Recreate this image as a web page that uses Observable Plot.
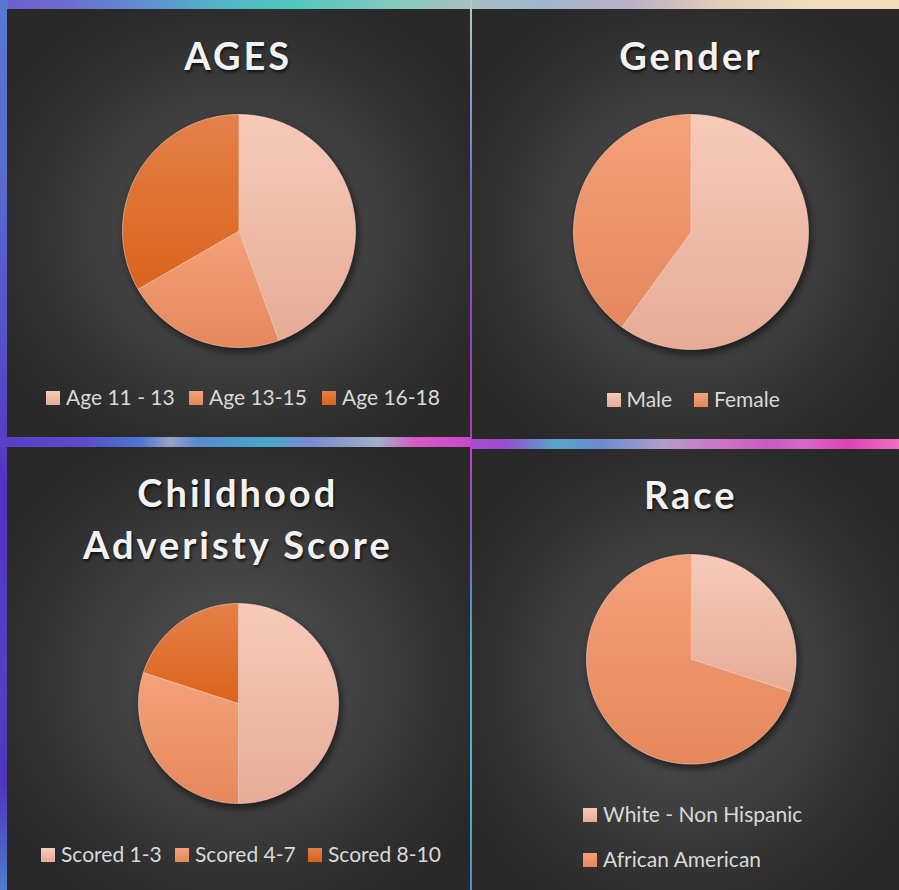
<!DOCTYPE html>
<html>
<head>
<meta charset="utf-8">
<script src="https://cdn.jsdelivr.net/npm/d3@7"></script>
<script src="https://cdn.jsdelivr.net/npm/@observablehq/plot@0.6"></script>
<style>
  html, body { margin: 0; padding: 0; background: #2b2b2b; }
  #root { position: relative; width: 899px; height: 890px; overflow: hidden; background: #5a4cc8; }
  .band { position: absolute; }
  .panel { position: absolute; background: radial-gradient(ellipse 60% 60% at 50% 52%, #575757 0%, #414141 45%, #2d2d2d 85%, #292929 100%); }
  .title { position: absolute; width: 440px; text-align: center; font-family: Lato, "Open Sans", sans-serif; font-weight: 700; font-size: 38px; line-height: 52px; letter-spacing: 3px; color: #f2f2f2; text-shadow: 1px 2px 3px rgba(0,0,0,0.75); }
  .pie { position: absolute; }
  .pie svg { display: block; overflow: visible; filter: drop-shadow(2px 4px 4px rgba(0,0,0,0.6)); }
  .leg { position: absolute; height: 20px; font-family: Lato, "Open Sans", sans-serif; font-size: 21px; line-height: 20px; color: #d9d9d9; white-space: nowrap; }
  .leg .sw { position: absolute; left: 0; top: 4px; width: 14px; height: 14px; }
  .leg .tx { position: absolute; left: 20px; top: 0; }
</style>
</head>
<body>
<div id="root"></div>
<script>
// ---------- data ----------
const ageTitle = ["AGES"];
const ageLabels = ["Age 11 - 13", "Age 13-15", "Age 16-18"];
const ageValues = [4, 2, 3];

const genderTitle = ["Gender"];
const genderLabels = ["Male", "Female"];
const genderValues = [60, 40];

const aceTitle = ["Childhood", "Adveristy Score"];
const aceLabels = ["Scored 1-3", "Scored 4-7", "Scored 8-10"];
const aceValues = [50, 30, 20];

const raceTitle = ["Race"];
const raceLabels = ["White - Non Hispanic", "African American"];
const raceValues = [30, 70];

// slice colours: [top, bottom] of each slice's vertical gradient
const sliceColors = [
  ["#f8cab9", "#e5ab97"],
  ["#f4a17a", "#e5875c"],
  ["#e5804a", "#d9631a"]
];

// ---------- layout ----------
const root = document.getElementById("root");

function band(left, top, width, height, bg) {
  const d = document.createElement("div");
  d.className = "band";
  Object.assign(d.style, {left: left + "px", top: top + "px", width: width + "px", height: height + "px", background: bg});
  root.appendChild(d);
}
// colourful frame
band(0, 0, 899, 9, "linear-gradient(to right, #6a5fcf 0%, #6d6fd0 8%, #5a98cf 18%, #52b9c8 26%, #4ec6bd 32%, #85c9bd 44%, #a9bfc0 52%, #9eb6cc 60%, #b9b0c4 70%, #e2cdb8 80%, #efdcbc 90%, #f2dcb8 100%)");
band(0, 0, 8, 890, "linear-gradient(to bottom, #5b78d2 0%, #5a6ad0 20%, #5646c8 45%, #5232c2 55%, #5440c6 75%, #4f34bd 88%, #4f7ccd 100%)");
band(0, 436, 472, 11, "linear-gradient(to right, #5a3ec8 0%, #5a4ccc 18%, #4c78d2 30%, #9aa0c8 36%, #5a8ad0 42%, #45a8c8 56%, #7a8ad0 66%, #a0b0c8 80%, #d85ac8 88%, #c648cc 100%)");
band(470, 438, 429, 11, "linear-gradient(to right, #b04ad0 0%, #9a4ccf 8%, #58a6cc 20%, #6a8ad0 30%, #b29cc8 45%, #cc74c8 58%, #c85ac4 70%, #d868c8 78%, #e040b8 88%, #f070c0 100%)");
band(470, 0, 2, 438, "linear-gradient(to bottom, #a8d4b4 0%, #80a8c8 20%, #6a6ad0 45%, #9a40c8 75%, #b03ec8 100%)");
band(470, 446, 2, 444, "linear-gradient(to bottom, #c040c8 0%, #7a60c8 20%, #40b0c8 45%, #3ec0cc 75%, #4a90c8 100%)");

const panels = [
  {title: ageTitle, labels: ageLabels, values: ageValues,
   box: [7, 9, 463, 428], cx: 238.3, cy: 230.5, r: 116.5, titleTop: 29.3,
   legend: {left: [46, 189, 322], base: [405, 405, 405]}},
  {title: genderTitle, labels: genderLabels, values: genderValues,
   box: [472, 9, 427, 430], cx: 690.8, cy: 231.3, r: 117.5, titleTop: 29.3,
   legend: {left: [606.5, 694], base: [407, 407]}},
  {title: aceTitle, labels: aceLabels, values: aceValues,
   box: [7, 447, 463, 443], cx: 237.8, cy: 703.3, r: 100, titleTop: 466.3,
   legend: {left: [41, 175, 308], base: [862, 862, 862]}},
  {title: raceTitle, labels: raceLabels, values: raceValues,
   box: [472, 449, 427, 441], cx: 690.8, cy: 658.3, r: 104.8, titleTop: 468.3,
   legend: {left: [583, 583], base: [821.5, 866.5]}}
];

panels.forEach((p, pi) => {
  const pd = document.createElement("div");
  pd.className = "panel";
  Object.assign(pd.style, {left: p.box[0] + "px", top: p.box[1] + "px", width: p.box[2] + "px", height: p.box[3] + "px"});
  root.appendChild(pd);
});

panels.forEach((p, pi) => {
  // title
  const t = document.createElement("div");
  t.className = "title";
  t.style.left = (p.cx - 220) + "px";
  t.style.top = p.titleTop + "px";
  t.innerHTML = p.title.map(s => `<div>${s}</div>`).join("");
  root.appendChild(t);

  // pie via Plot
  const arcs = d3.pie().sort(null).value(d => d)(p.values);
  const m = 3;
  const size = 2 * p.r + 2 * m;
  const marks = arcs.map((a, i) => {
    const pts = [{x: 0, y: 0}];
    const n = Math.max(2, Math.ceil((a.endAngle - a.startAngle) / (Math.PI / 360)));
    for (let k = 0; k <= n; k++) {
      const ang = a.startAngle + (a.endAngle - a.startAngle) * k / n;
      pts.push({x: Math.sin(ang), y: Math.cos(ang)});
    }
    pts.push({x: 0, y: 0});
    return Plot.line(pts, {
      x: "x", y: "y", curve: "linear",
      fill: `url(#p${pi}g${i})`,
      stroke: "#fbd6c6", strokeOpacity: 0.75, strokeWidth: 0.8, strokeLinejoin: "round"
    });
  });
  const svg = Plot.plot({
    width: size, height: size, margin: m,
    x: {domain: [-1, 1], axis: null},
    y: {domain: [-1, 1], axis: null},
    style: {background: "transparent", overflow: "visible"},
    marks
  });
  const defs = d3.select(svg).insert("defs", ":first-child");
  sliceColors.forEach((c, i) => {
    const g = defs.append("linearGradient").attr("id", `p${pi}g${i}`).attr("x1", 0).attr("y1", 0).attr("x2", 0).attr("y2", 1);
    g.append("stop").attr("offset", "0%").attr("stop-color", c[0]);
    g.append("stop").attr("offset", "100%").attr("stop-color", c[1]);
  });
  const holder = document.createElement("div");
  holder.className = "pie";
  holder.style.left = (p.cx - p.r - m) + "px";
  holder.style.top = (p.cy - p.r - m) + "px";
  holder.appendChild(svg);
  root.appendChild(holder);

  // legend
  p.labels.forEach((lab, i) => {
    const it = document.createElement("div");
    it.className = "leg";
    it.style.left = p.legend.left[i] + "px";
    it.style.top = (p.legend.base[i] - 18) + "px";
    const c = sliceColors[i];
    it.innerHTML = `<div class="sw" style="background: linear-gradient(to bottom, ${c[0]}, ${c[1]})"></div><span class="tx">${lab}</span>`;
    root.appendChild(it);
  });
});
</script>
</body>
</html>
